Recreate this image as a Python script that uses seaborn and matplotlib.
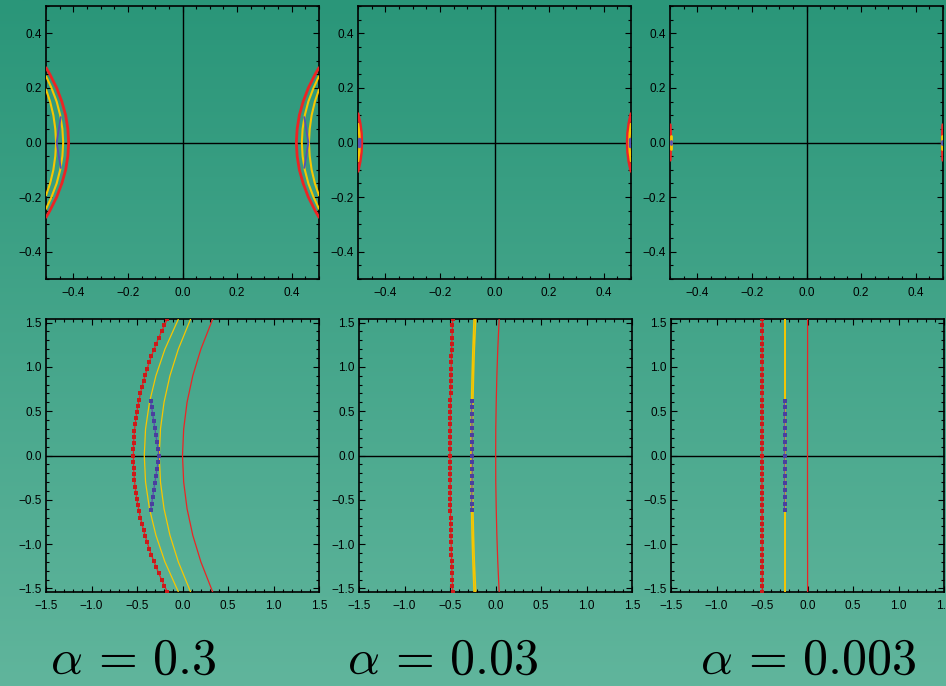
import numpy as np
import matplotlib
matplotlib.use("Agg")
import matplotlib.pyplot as plt
import seaborn as sns
from matplotlib.ticker import MultipleLocator, FuncFormatter

sns.set_theme(style="ticks")
plt.rcParams['font.family'] = ['Liberation Sans', 'DejaVu Sans']
plt.rcParams['mathtext.fontset'] = 'cm'

RED = "#ec2424"
RED_MK = "#cc1a1a"
YEL = "#f7c600"
BLU = "#5b4fb0"
BLU_MK = "#4a3f9e"

# ---------------- data: top row (zoomed-out, |x|,|y| <= 0.5) ----------------
# alpha = 0.3
tl_red_y = [-0.274, -0.25, -0.2, -0.15, -0.1, -0.05, 0.0, 0.05, 0.1, 0.15, 0.2, 0.25, 0.274]
tl_red_xl = [-0.500, -0.486, -0.461, -0.442, -0.428, -0.420, -0.417, -0.420, -0.428, -0.442, -0.461, -0.486, -0.500]
tl_red_xr = [0.500, 0.486, 0.461, 0.442, 0.428, 0.420, 0.417, 0.420, 0.428, 0.442, 0.461, 0.486, 0.500]
tl_yo_y = [-0.243, -0.2, -0.15, -0.1, -0.05, 0.0, 0.05, 0.1, 0.15, 0.2, 0.243]
tl_yo_xl = [-0.500, -0.480, -0.461, -0.448, -0.440, -0.437, -0.440, -0.448, -0.461, -0.480, -0.500]
tl_yo_xr = [0.500, 0.480, 0.461, 0.448, 0.440, 0.437, 0.440, 0.448, 0.461, 0.480, 0.500]
tl_yi_y = [-0.194, -0.15, -0.1, -0.05, 0.0, 0.05, 0.1, 0.15, 0.194]
tl_yi_xl = [-0.500, -0.485, -0.473, -0.466, -0.463, -0.466, -0.473, -0.485, -0.500]
tl_yi_xr = [0.500, 0.485, 0.473, 0.466, 0.463, 0.466, 0.473, 0.485, 0.500]
tl_bl_y = [-0.093, 0.0, 0.093]
tl_bl_xl = [-0.446, -0.461, -0.446]
tl_bl_xr = [0.446, 0.461, 0.446]

# alpha = 0.03
tm_red_y = [-0.105, -0.07, -0.035, 0.0, 0.035, 0.07, 0.105]
tm_red_xl = [-0.500, -0.4925, -0.488, -0.4865, -0.488, -0.4925, -0.500]
tm_red_xr = [0.500, 0.4925, 0.488, 0.4865, 0.488, 0.4925, 0.500]
tm_yel_y = [-0.068, -0.034, 0.0, 0.034, 0.068]
tm_yel_xl = [-0.500, -0.4955, -0.494, -0.4955, -0.500]
tm_yel_xr = [0.500, 0.4955, 0.494, 0.4955, 0.500]
tm_bl_y = [-0.012, 0.012]
tm_bl_xl = [-0.496, -0.496]
tm_bl_xr = [0.496, 0.496]

# alpha = 0.003
tr_red_y = [-0.065, 0.0, 0.065]
tr_red_xl = [-0.499, -0.497, -0.499]
tr_red_xr = [0.499, 0.497, 0.499]
tr_yel_y = [-0.024, 0.024]
tr_yel_xl = [-0.498, -0.498]
tr_yel_xr = [0.498, 0.498]
tr_bl_y = [-0.007, 0.007]
tr_bl_xl = [-0.498, -0.498]
tr_bl_xr = [0.498, 0.498]

# ---------------- data: bottom row (|x| <= 1.5) ----------------
mk_y = [-1.54, -1.47, -1.40, -1.33, -1.26, -1.19, -1.12, -1.05, -0.98, -0.91, -0.84, -0.77,
        -0.70, -0.63, -0.56, -0.49, -0.42, -0.35, -0.28, -0.21, -0.14, -0.07, 0.0,
        0.07, 0.14, 0.21, 0.28, 0.35, 0.42, 0.49, 0.56, 0.63, 0.70, 0.77, 0.84, 0.91,
        0.98, 1.05, 1.12, 1.19, 1.26, 1.33, 1.40, 1.47, 1.54]
bl_red_mk_x = [-0.165, -0.199, -0.230, -0.261, -0.289, -0.316, -0.342, -0.366, -0.388, -0.409, -0.428, -0.446,
               -0.463, -0.477, -0.490, -0.502, -0.512, -0.521, -0.528, -0.533, -0.537, -0.539, -0.540,
               -0.539, -0.537, -0.533, -0.528, -0.521, -0.512, -0.502, -0.490, -0.477, -0.463, -0.446, -0.428, -0.409,
               -0.388, -0.366, -0.342, -0.316, -0.289, -0.261, -0.230, -0.199, -0.165]
bm_red_mk_x = [-0.470, -0.473, -0.475, -0.478, -0.480, -0.482, -0.484, -0.486, -0.488, -0.489, -0.491, -0.492,
               -0.494, -0.495, -0.496, -0.497, -0.498, -0.498, -0.499, -0.499, -0.500, -0.500, -0.500,
               -0.500, -0.500, -0.499, -0.499, -0.498, -0.498, -0.497, -0.496, -0.495, -0.494, -0.492, -0.491, -0.489,
               -0.488, -0.486, -0.484, -0.482, -0.480, -0.478, -0.475, -0.473, -0.470]
br_red_mk_x = [-0.497, -0.497, -0.497, -0.497, -0.498, -0.498, -0.498, -0.498, -0.498, -0.499, -0.499, -0.499,
               -0.499, -0.499, -0.499, -0.500, -0.500, -0.500, -0.500, -0.500, -0.500, -0.500, -0.500,
               -0.500, -0.500, -0.500, -0.500, -0.500, -0.500, -0.500, -0.499, -0.499, -0.499, -0.499, -0.499, -0.499,
               -0.498, -0.498, -0.498, -0.498, -0.498, -0.497, -0.497, -0.497, -0.497]

ln_y = [-1.54, -1.2, -0.9, -0.6, -0.3, 0.0, 0.3, 0.6, 0.9, 1.2, 1.54]
bl_yel1_x = [-0.045, -0.193, -0.292, -0.363, -0.406, -0.420, -0.406, -0.363, -0.292, -0.193, -0.045]
bl_yel2_x = [0.089, -0.046, -0.138, -0.203, -0.242, -0.255, -0.242, -0.203, -0.138, -0.046, 0.089]
bl_red_x = [0.332, 0.202, 0.113, 0.050, 0.013, 0.000, 0.013, 0.050, 0.113, 0.202, 0.332]
bm_yel1_x = [-0.235, -0.248, -0.257, -0.263, -0.267, -0.268, -0.267, -0.263, -0.257, -0.248, -0.235]
bm_yel2_x = [-0.218, -0.233, -0.242, -0.249, -0.254, -0.255, -0.254, -0.249, -0.242, -0.233, -0.218]
bm_red_x = [0.040, 0.025, 0.015, 0.008, 0.003, 0.002, 0.003, 0.008, 0.015, 0.025, 0.040]
br_yel_x = [-0.250, -0.250, -0.250, -0.250, -0.250, -0.250, -0.250, -0.250, -0.250, -0.250, -0.250]
br_red_x = [0.001, 0.001, 0.000, 0.000, 0.000, 0.000, 0.000, 0.000, 0.000, 0.001, 0.001]

bl_bl_y = [-0.620, -0.543, -0.465, -0.388, -0.310, -0.233, -0.155, -0.078, 0.0,
           0.078, 0.155, 0.233, 0.310, 0.388, 0.465, 0.543, 0.620]
bl_bl_x = [-0.350, -0.339, -0.327, -0.316, -0.304, -0.293, -0.281, -0.270, -0.258,
           -0.270, -0.281, -0.293, -0.304, -0.316, -0.327, -0.339, -0.350]
bm_bl_x = [-0.262, -0.261, -0.260, -0.259, -0.258, -0.257, -0.256, -0.255, -0.255,
           -0.255, -0.256, -0.257, -0.258, -0.259, -0.260, -0.261, -0.262]
br_bl_x = [-0.251, -0.251, -0.250, -0.250, -0.250, -0.250, -0.250, -0.250, -0.250,
           -0.250, -0.250, -0.250, -0.250, -0.250, -0.250, -0.251, -0.251]

labels = [r'$\alpha\,=\,0.3$', r'$\alpha\,=\,0.03$', r'$\alpha\,=\,0.003$']

# ---------------- figure ----------------
W, H = 946, 686
fig = plt.figure(figsize=(W / 100, H / 100), dpi=100)

bg = fig.add_axes([0, 0, 1, 1], zorder=-10)
g = np.linspace(0, 1, 256)[:, None, None]
c_top = np.array([42, 150, 121]) / 255
c_bot = np.array([96, 181, 156]) / 255
bg.imshow(c_top + (c_bot - c_top) * g, aspect='auto', extent=[0, 1, 0, 1], origin='upper')
bg.set_axis_off()


def fmt(v, p):
    if abs(v) < 1e-9:
        v = 0.0
    return f"{v:.1f}".replace('-', '\u2212')


def make_ax(px_left, px_top, lim_x, lim_y, major, minor):
    ax = fig.add_axes([px_left / W, (H - px_top - 273) / H, 273 / W, 273 / H])
    ax.set_facecolor('none')
    ax.set_xlim(*lim_x)
    ax.set_ylim(*lim_y)
    for a in (ax.xaxis, ax.yaxis):
        a.set_major_locator(MultipleLocator(major))
        a.set_minor_locator(MultipleLocator(minor))
        a.set_major_formatter(FuncFormatter(fmt))
    ax.tick_params(which='both', direction='in', top=True, right=True,
                   colors='black', labelsize=8.5, width=0.8)
    ax.tick_params(which='major', length=4)
    ax.tick_params(which='minor', length=2.2)
    ax.tick_params(axis='x', pad=6)
    ax.tick_params(axis='y', pad=3)
    for s in ax.spines.values():
        s.set_color('black')
        s.set_linewidth(1.2)
    return ax


def line(ax, x, y, color, lw, marker=None, ms=2.0, mc=None, z=3):
    kw = dict(sort=False, estimator=None, color=color, lw=lw, ax=ax, zorder=z)
    if marker:
        kw.update(marker=marker, markersize=ms, markeredgewidth=0,
                  markerfacecolor=mc or color)
    sns.lineplot(x=x, y=y, **kw)


# top row
tops = [make_ax(46, 6, (-0.5, 0.5), (-0.5, 0.5), 0.2, 0.05),
        make_ax(358, 6, (-0.5, 0.5), (-0.5, 0.5), 0.2, 0.05),
        make_ax(670, 6, (-0.5, 0.5), (-0.5, 0.5), 0.2, 0.05)]
for ax in tops:
    ax.axhline(0, color='black', lw=1.0, zorder=2)
    ax.axvline(0, color='black', lw=1.0, zorder=2)

ax = tops[0]
for xs in (tl_red_xl, tl_red_xr):
    line(ax, xs, tl_red_y, RED, 2.0)
for xs in (tl_yo_xl, tl_yo_xr):
    line(ax, xs, tl_yo_y, YEL, 1.5)
for xs in (tl_yi_xl, tl_yi_xr):
    line(ax, xs, tl_yi_y, YEL, 1.5)
for xs in (tl_bl_xl, tl_bl_xr):
    line(ax, xs, tl_bl_y, BLU, 1.3, z=4)

ax = tops[1]
for xs in (tm_red_xl, tm_red_xr):
    line(ax, xs, tm_red_y, RED, 2.2)
for xs in (tm_yel_xl, tm_yel_xr):
    line(ax, xs, tm_yel_y, YEL, 1.8)
for xs in (tm_bl_xl, tm_bl_xr):
    line(ax, xs, tm_bl_y, BLU, 2.5, z=4)

ax = tops[2]
for xs in (tr_red_xl, tr_red_xr):
    line(ax, xs, tr_red_y, RED, 2.0)
for xs in (tr_yel_xl, tr_yel_xr):
    line(ax, xs, tr_yel_y, YEL, 2.0)
for xs in (tr_bl_xl, tr_bl_xr):
    line(ax, xs, tr_bl_y, BLU, 2.0, z=4)

# bottom row
bots = [make_ax(46, 319, (-1.5, 1.5), (-1.54, 1.54), 0.5, 0.1),
        make_ax(359, 319, (-1.5, 1.5), (-1.54, 1.54), 0.5, 0.1),
        make_ax(671, 319, (-1.5, 1.5), (-1.54, 1.54), 0.5, 0.1)]
for ax in bots:
    ax.axhline(0, color='black', lw=1.0, zorder=2)

MS = 2.7
ax = bots[0]
line(ax, bl_red_mk_x, mk_y, RED, 0.9, marker='s', ms=MS, mc=RED_MK)
line(ax, bl_yel1_x, ln_y, YEL, 0.9)
line(ax, bl_yel2_x, ln_y, YEL, 0.9)
line(ax, bl_red_x, ln_y, RED, 0.9)
line(ax, bl_bl_x, bl_bl_y, BLU, 0.9, marker='s', ms=MS, mc=BLU_MK, z=4)

ax = bots[1]
line(ax, bm_red_mk_x, mk_y, RED, 0.9, marker='s', ms=MS, mc=RED_MK)
line(ax, bm_yel1_x, ln_y, YEL, 1.2)
line(ax, bm_yel2_x, ln_y, YEL, 1.2)
line(ax, bm_red_x, ln_y, RED, 0.9)
line(ax, bm_bl_x, bl_bl_y, BLU, 0.9, marker='s', ms=MS, mc=BLU_MK, z=4)

ax = bots[2]
line(ax, br_red_mk_x, mk_y, RED, 0.9, marker='s', ms=MS, mc=RED_MK)
line(ax, br_yel_x, ln_y, YEL, 1.4)
line(ax, br_red_x, ln_y, RED, 0.9)
line(ax, br_bl_x, bl_bl_y, BLU, 0.9, marker='s', ms=MS, mc=BLU_MK, z=4)

for cx, lab in zip([133.5, 443, 808.5], labels):
    fig.text(cx / W, 2 / H, lab, ha='center', va='bottom', fontsize=36, color='black')

fig.savefig('out.png', dpi=100)
